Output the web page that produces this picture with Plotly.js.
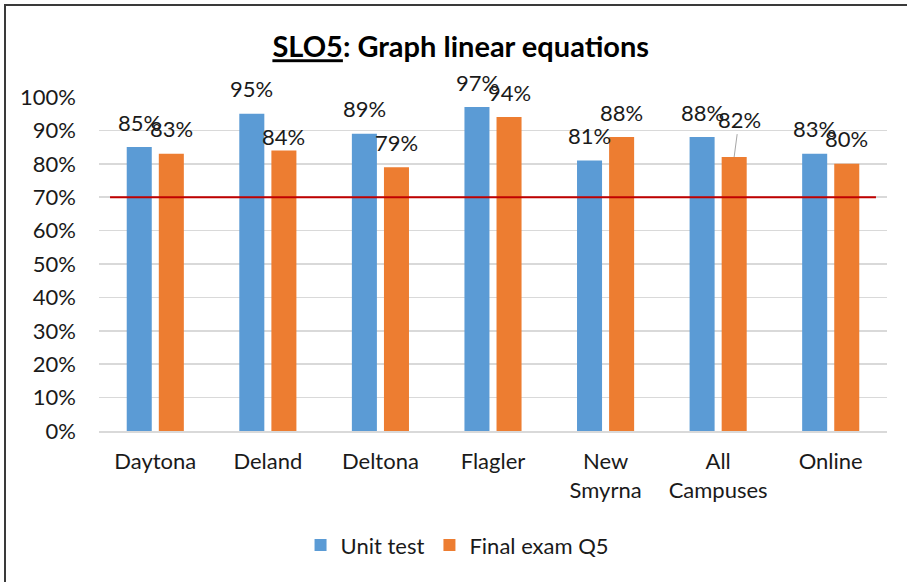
<!DOCTYPE html>
<html>
<head>
<meta charset="utf-8">
<script src="https://cdn.plot.ly/plotly-3.0.1.min.js"></script>
<style>
  html, body { margin: 0; padding: 0; background: #fff; }
  #wrap { position: relative; width: 907px; height: 582px; overflow: hidden; }
  #chart { position: absolute; left: 0; top: 0; width: 907px; height: 582px; }
  #frame { position: absolute; left: 4px; top: 4px; width: 1000px; height: 700px;
           border-left: 2px solid #3a3a3a; border-top: 2px solid #3a3a3a; pointer-events: none; }
</style>
</head>
<body>
<div id="wrap"><div id="chart"></div><div id="frame"></div></div>
<script>
// ---- data ----
const categories = ['Daytona', 'Deland', 'Deltona', 'Flagler', 'New<br>Smyrna', 'All<br>Campuses', 'Online'];
const unitTest = [0.85, 0.95, 0.89, 0.97, 0.81, 0.88, 0.83];
const finalExamQ5 = [0.83, 0.84, 0.79, 0.94, 0.88, 0.82, 0.80];
const seriesNames = ['Unit test', 'Final exam Q5'];
const targetLevel = 0.70;
const yTickValues = [0, 0.1, 0.2, 0.3, 0.4, 0.5, 0.6, 0.7, 0.8, 0.9, 1.0];
const yTickLabels = ['0%', '10%', '20%', '30%', '40%', '50%', '60%', '70%', '80%', '90%', '100%'];
const chartTitle = '<u>SLO5</u>: Graph linear equations';

// ---- style ----
const FONT = 'Lato, "Open Sans", sans-serif';
const FS = 22;
const colors = ['#5B9BD5', '#ED7D31'];
const seriesData = [unitTest, finalExamQ5];

const traces = seriesData.map((vals, i) => ({
  type: 'bar',
  name: seriesNames[i],
  x: categories,
  y: vals,
  marker: { color: colors[i] },
  hoverinfo: 'skip'
}));

// label placement tweaks (style only)
const labelShift = { '1-1': { yshift: 14 } };
const arrowLabels = { '1-5': { ax: 5, ay: -38 } };

const annotations = [];
seriesData.forEach((vals, i) => {
  vals.forEach((v, j) => {
    const key = i + '-' + j;
    const txt = Math.round(v * 100) + '%';
    const base = {
      x: categories[j], y: v, xref: 'x', yref: 'y',
      text: txt, font: { family: FONT, size: FS, color: '#1a1a1a' },
      xshift: i === 0 ? -16 : 16
    };
    if (arrowLabels[key]) {
      Object.assign(base, {
        showarrow: true, arrowhead: 0, arrowwidth: 1, arrowcolor: '#A6A6A6',
        ax: arrowLabels[key].ax, ay: arrowLabels[key].ay, standoff: 0
      });
    } else {
      Object.assign(base, {
        showarrow: false, yanchor: 'middle',
        yshift: labelShift[key] ? labelShift[key].yshift : 25
      });
    }
    annotations.push(base);
  });
});

const layout = {
  width: 907, height: 582,
  margin: { l: 99, r: 20, t: 97, b: 151, pad: 0 },
  paper_bgcolor: '#ffffff', plot_bgcolor: '#ffffff',
  font: { family: FONT, size: FS, color: '#1a1a1a' },
  title: {
    text: chartTitle,
    font: { family: FONT, size: 29, color: '#000000', weight: 'bold' },
    x: 0.508, xref: 'container', xanchor: 'center',
    y: 0.919, yref: 'container', yanchor: 'middle'
  },
  barmode: 'group',
  bargap: 0.43,
  bargroupgap: 0.22,
  showlegend: true,
  legend: {
    orientation: 'h', x: 0.455, xanchor: 'center', y: -0.342, yanchor: 'middle',
    font: { family: FONT, size: FS, color: '#1a1a1a' }, itemclick: false
  },
  xaxis: {
    type: 'category',
    showgrid: false, zeroline: false,
    showline: true, linecolor: '#D9D9D9', linewidth: 1.5,
    ticks: '', ticklabelstandoff: 10,
    tickfont: { family: FONT, size: FS, color: '#1a1a1a' },
    fixedrange: true
  },
  yaxis: {
    range: [0, 1],
    tickvals: yTickValues, ticktext: yTickLabels,
    showgrid: true, gridcolor: '#D9D9D9', gridwidth: 1.5,
    zeroline: false, showline: false, ticks: '',
    ticklabelstandoff: 22,
    tickfont: { family: FONT, size: FS, color: '#1a1a1a' },
    fixedrange: true
  },
  shapes: [{
    type: 'line', xref: 'paper', yref: 'y',
    x0: 0.014, x1: 0.986, y0: targetLevel, y1: targetLevel,
    line: { color: '#C00000', width: 2 }, layer: 'above'
  }],
  annotations: annotations,
  hovermode: false
};

Plotly.newPlot('chart', traces, layout, { displayModeBar: false, staticPlot: true });
</script>
</body>
</html>
